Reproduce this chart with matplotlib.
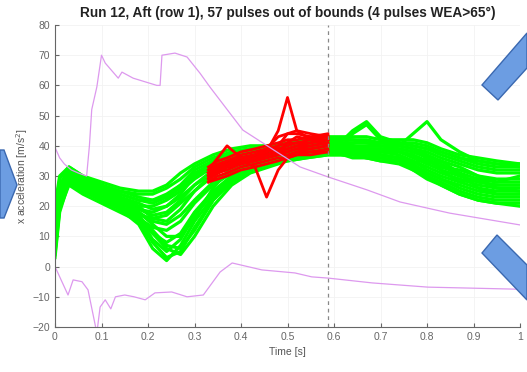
import numpy as np
import matplotlib
matplotlib.use("Agg")
import matplotlib.pyplot as plt
from matplotlib.patches import Polygon

plt.rcParams['font.family'] = ['Liberation Sans', 'DejaVu Sans']

# time grid for the green pulses
t_green = [0, 0.01, 0.03, 0.06, 0.1, 0.14, 0.18, 0.21, 0.24, 0.27, 0.3, 0.34, 0.38, 0.42, 0.46,
           0.5, 0.54, 0.587, 0.62, 0.64, 0.67, 0.70, 0.74, 0.77, 0.80, 0.83, 0.87, 0.91, 0.95, 1.0]

green_pulses = [
    [20, 30, 33, 30, 28, 26, 25, 25, 27, 31, 34, 37, 39, 40, 40, 41, 42, 43, 43, 43, 43, 42, 42, 42, 41, 39, 37, 36, 35, 34],
    [15, 27, 32, 29, 27, 25, 24, 24, 26, 29, 33, 36, 38, 39, 40, 40, 41, 42, 42, 42, 42, 41, 41, 40, 39, 38, 36, 34, 33, 33],
    [12, 25, 31, 28, 26, 24, 22, 22, 24, 27, 31, 34, 37, 38, 39, 40, 40, 41, 41, 41, 41, 40, 40, 39, 38, 36, 34, 32, 31, 31],
    [8, 22, 30, 27, 25, 22, 20, 20, 22, 25, 29, 33, 36, 37, 38, 39, 40, 41, 40, 40, 40, 40, 39, 38, 37, 35, 33, 30, 29, 29],
    [5, 20, 29, 26, 24, 21, 19, 18, 20, 23, 27, 31, 35, 36, 37, 38, 39, 40, 40, 40, 39, 39, 38, 37, 35, 33, 31, 29, 28, 28],
    [3, 18, 28, 25, 23, 20, 17, 16, 17, 21, 25, 30, 34, 35, 37, 37, 38, 39, 39, 39, 39, 38, 38, 36, 34, 32, 30, 28, 27, 27],
    [10, 24, 30, 27, 24, 21, 18, 15, 14, 17, 22, 28, 32, 34, 36, 37, 38, 39, 39, 39, 38, 38, 37, 35, 33, 31, 29, 27, 26, 26],
    [6, 21, 28, 25, 22, 19, 16, 13, 12, 15, 21, 27, 31, 34, 35, 36, 37, 38, 38, 38, 38, 37, 36, 35, 32, 30, 28, 26, 25, 25],
    [4, 19, 27, 24, 21, 18, 15, 11, 8, 11, 18, 25, 30, 33, 35, 36, 37, 38, 38, 38, 37, 37, 36, 34, 31, 29, 27, 25, 24, 24],
    [9, 23, 29, 26, 23, 20, 16, 9, 5, 9, 17, 24, 30, 33, 35, 36, 37, 38, 37, 37, 37, 36, 35, 33, 31, 29, 26, 24, 23, 23],
    [7, 22, 28, 25, 22, 19, 14, 6, 2, 7, 15, 23, 29, 32, 34, 36, 37, 38, 37, 37, 36, 36, 35, 33, 30, 28, 25, 23, 22, 22],
    [11, 24, 29, 26, 23, 20, 15, 8, 3, 5, 13, 22, 28, 32, 34, 35, 36, 37, 37, 37, 36, 35, 35, 32, 30, 27, 24, 22, 21, 21],
    [13, 26, 31, 28, 25, 22, 17, 11, 6, 4, 10, 20, 27, 31, 33, 35, 36, 37, 37, 36, 36, 35, 34, 32, 29, 27, 24, 22, 21, 20],
    [14, 26, 32, 29, 26, 23, 21, 19, 20, 24, 30, 35, 38, 39, 40, 40, 41, 42, 42, 45, 48, 43, 41, 40, 39, 37, 35, 33, 32, 32],
    [16, 27, 32, 29, 27, 24, 22, 21, 23, 27, 32, 35, 37, 38, 39, 40, 41, 42, 42, 42, 41, 41, 40, 44, 48, 42, 38, 35, 34, 34],
    [9, 23, 30, 27, 24, 22, 19, 17, 18, 22, 27, 32, 36, 37, 38, 39, 39, 40, 40, 44, 47, 42, 40, 39, 37, 34, 30, 28, 27, 27],
    [6, 21, 29, 26, 24, 21, 18, 14, 10, 10, 16, 26, 33, 35, 37, 38, 39, 40, 40, 40, 39, 39, 38, 37, 34, 35, 31, 26, 24, 24],
    [8, 22, 29, 26, 23, 20, 16, 12, 7, 6, 12, 22, 29, 33, 35, 36, 37, 38, 38, 38, 38, 37, 36, 34, 36, 32, 28, 29, 26, 25],
    [18, 29, 33, 30, 27, 25, 23, 22, 23, 26, 30, 34, 37, 38, 39, 40, 41, 42, 41, 41, 41, 41, 41, 41, 40, 38, 36, 35, 34, 33],
    [12, 24, 30, 27, 25, 23, 20, 16, 15, 19, 25, 31, 35, 36, 37, 38, 39, 40, 39, 39, 39, 39, 39, 38, 36, 33, 32, 30, 28, 30],
]

# out of bounds parts (red)
t_red = [0.33, 0.35, 0.37, 0.4, 0.43, 0.455, 0.48, 0.5, 0.52, 0.55, 0.587]
red_pulses = [
    [31, 33, 35, 36, 37, 38, 39, 40, 41, 41, 42],
    [30, 32, 34, 35, 36, 37, 38, 39, 40, 40, 41],
    [29, 31, 32, 34, 35, 36, 37, 38, 39, 39, 40],
    [30, 31, 33, 34, 35, 36, 37, 37, 38, 38, 39],
    [28, 30, 31, 33, 34, 35, 36, 36, 37, 38, 38],
    [32, 36, 40, 36, 37, 38, 39, 39, 40, 41, 42],
    [31, 33, 34, 35, 33, 23, 32, 36, 38, 39, 40],
    [31, 33, 34, 36, 37, 38, 45, 56, 45, 42, 42],
    [30, 32, 34, 35, 37, 39, 43, 44, 44, 43, 43],
    [29, 31, 33, 35, 36, 38, 40, 44, 45, 44, 43],
    [28, 29, 30, 32, 33, 34, 35, 36, 37, 37, 38],
    [33, 35, 36, 38, 39, 40, 41, 42, 42, 43, 44],
    [32, 34, 35, 37, 38, 39, 40, 41, 41, 42, 43],
    [30, 31, 33, 36, 35, 37, 38, 38, 39, 40, 41],
    [31, 32, 33, 34, 36, 37, 38, 41, 43, 42, 40],
]

# bounds (magenta)
t_upper = [0, 0.01, 0.02, 0.035, 0.05, 0.068, 0.074, 0.079, 0.09, 0.1, 0.108, 0.136, 0.144, 0.168,
           0.219, 0.226, 0.23, 0.258, 0.284, 0.312, 0.333, 0.404, 0.527, 0.587, 0.671, 0.742, 0.849, 1.0]
upper = [39.5, 36, 34, 32, 31, 30, 40, 52, 59.5, 70, 67.4, 62.4, 64.4, 62.4,
         60, 60, 70, 70.7, 69.4, 64, 59.5, 45.2, 33, 29.7, 25.4, 21.4, 17.7, 13.8]
t_lower = [0, 0.028, 0.039, 0.058, 0.071, 0.09, 0.097, 0.108, 0.12, 0.13, 0.15, 0.17, 0.194, 0.215,
           0.251, 0.284, 0.319, 0.355, 0.381, 0.445, 0.516, 0.552, 0.587, 0.682, 0.802, 1.0]
lower = [0, -9.4, -4.4, -5, -7.7, -22, -13.4, -11, -14, -10, -9.4, -10, -11, -8.7,
         -8.4, -10, -9.4, -1.8, 1.2, -1.1, -2.1, -3.4, -3.8, -5.4, -6.8, -7.5]

t_cut = 0.587

W, H = 527, 372
fig = plt.figure(figsize=(W / 100, H / 100), dpi=100)
ax = fig.add_axes([55 / W, 45 / H, 465 / W, 302 / H])

for p in green_pulses:
    ax.plot(t_green, p, color=(0, 1, 0), lw=2.3, solid_joinstyle='round')
for p in red_pulses:
    ax.plot(t_red, p, color=(1, 0, 0), lw=2.0, solid_joinstyle='round')

ax.plot(t_upper, upper, color='#dd99ee', lw=0.9)
ax.plot(t_lower, lower, color='#dd99ee', lw=0.9)
ax.axvline(t_cut, color='#888888', lw=0.9, ls=(0, (3, 3)))

ax.set_xlim(0, 1)
ax.set_ylim(-20, 80)
ax.set_xticks(np.arange(0, 1.01, 0.1))
ax.set_xticklabels(['0', '0.1', '0.2', '0.3', '0.4', '0.5', '0.6', '0.7', '0.8', '0.9', '1'])
ax.set_yticks(np.arange(-20, 81, 10))
ax.grid(True, color='#f2f2f2', lw=0.6)
ax.set_axisbelow(True)
for s in ['top', 'right']:
    ax.spines[s].set_visible(False)
for s in ['left', 'bottom']:
    ax.spines[s].set_color('#666666')
ax.tick_params(direction='in', length=3, colors='#666666', labelsize=7.5, labelcolor='#666666')

ax.set_title('Run 12, Aft (row 1), 57 pulses out of bounds (4 pulses WEA>65°)',
             fontsize=9.8, fontweight='bold', color='#222222', pad=6)
ax.set_xlabel('Time [s]', fontsize=7.5, color='#555555')
ax.set_ylabel('x acceleration [m/s$^2$]', fontsize=7.5, color='#555555', labelpad=2)


# blue arrow shapes on top of the picture (pixel coords, origin top-left)
def px(pts):
    return [(x / W, 1 - y / H) for x, y in pts]


shapes = [
    [(0, 150), (4, 150), (17, 185), (4, 218), (0, 218)],
    [(482, 85), (527, 33), (527, 68), (498, 100)],
    [(497, 235), (527, 265), (527, 300), (482, 253)],
]
for s in shapes:
    fig.add_artist(Polygon(px(s), closed=True, transform=fig.transFigure,
                           facecolor='#6c9de2', edgecolor='#3a68b0', lw=1.0, zorder=10))

fig.savefig('out.png', dpi=100)
